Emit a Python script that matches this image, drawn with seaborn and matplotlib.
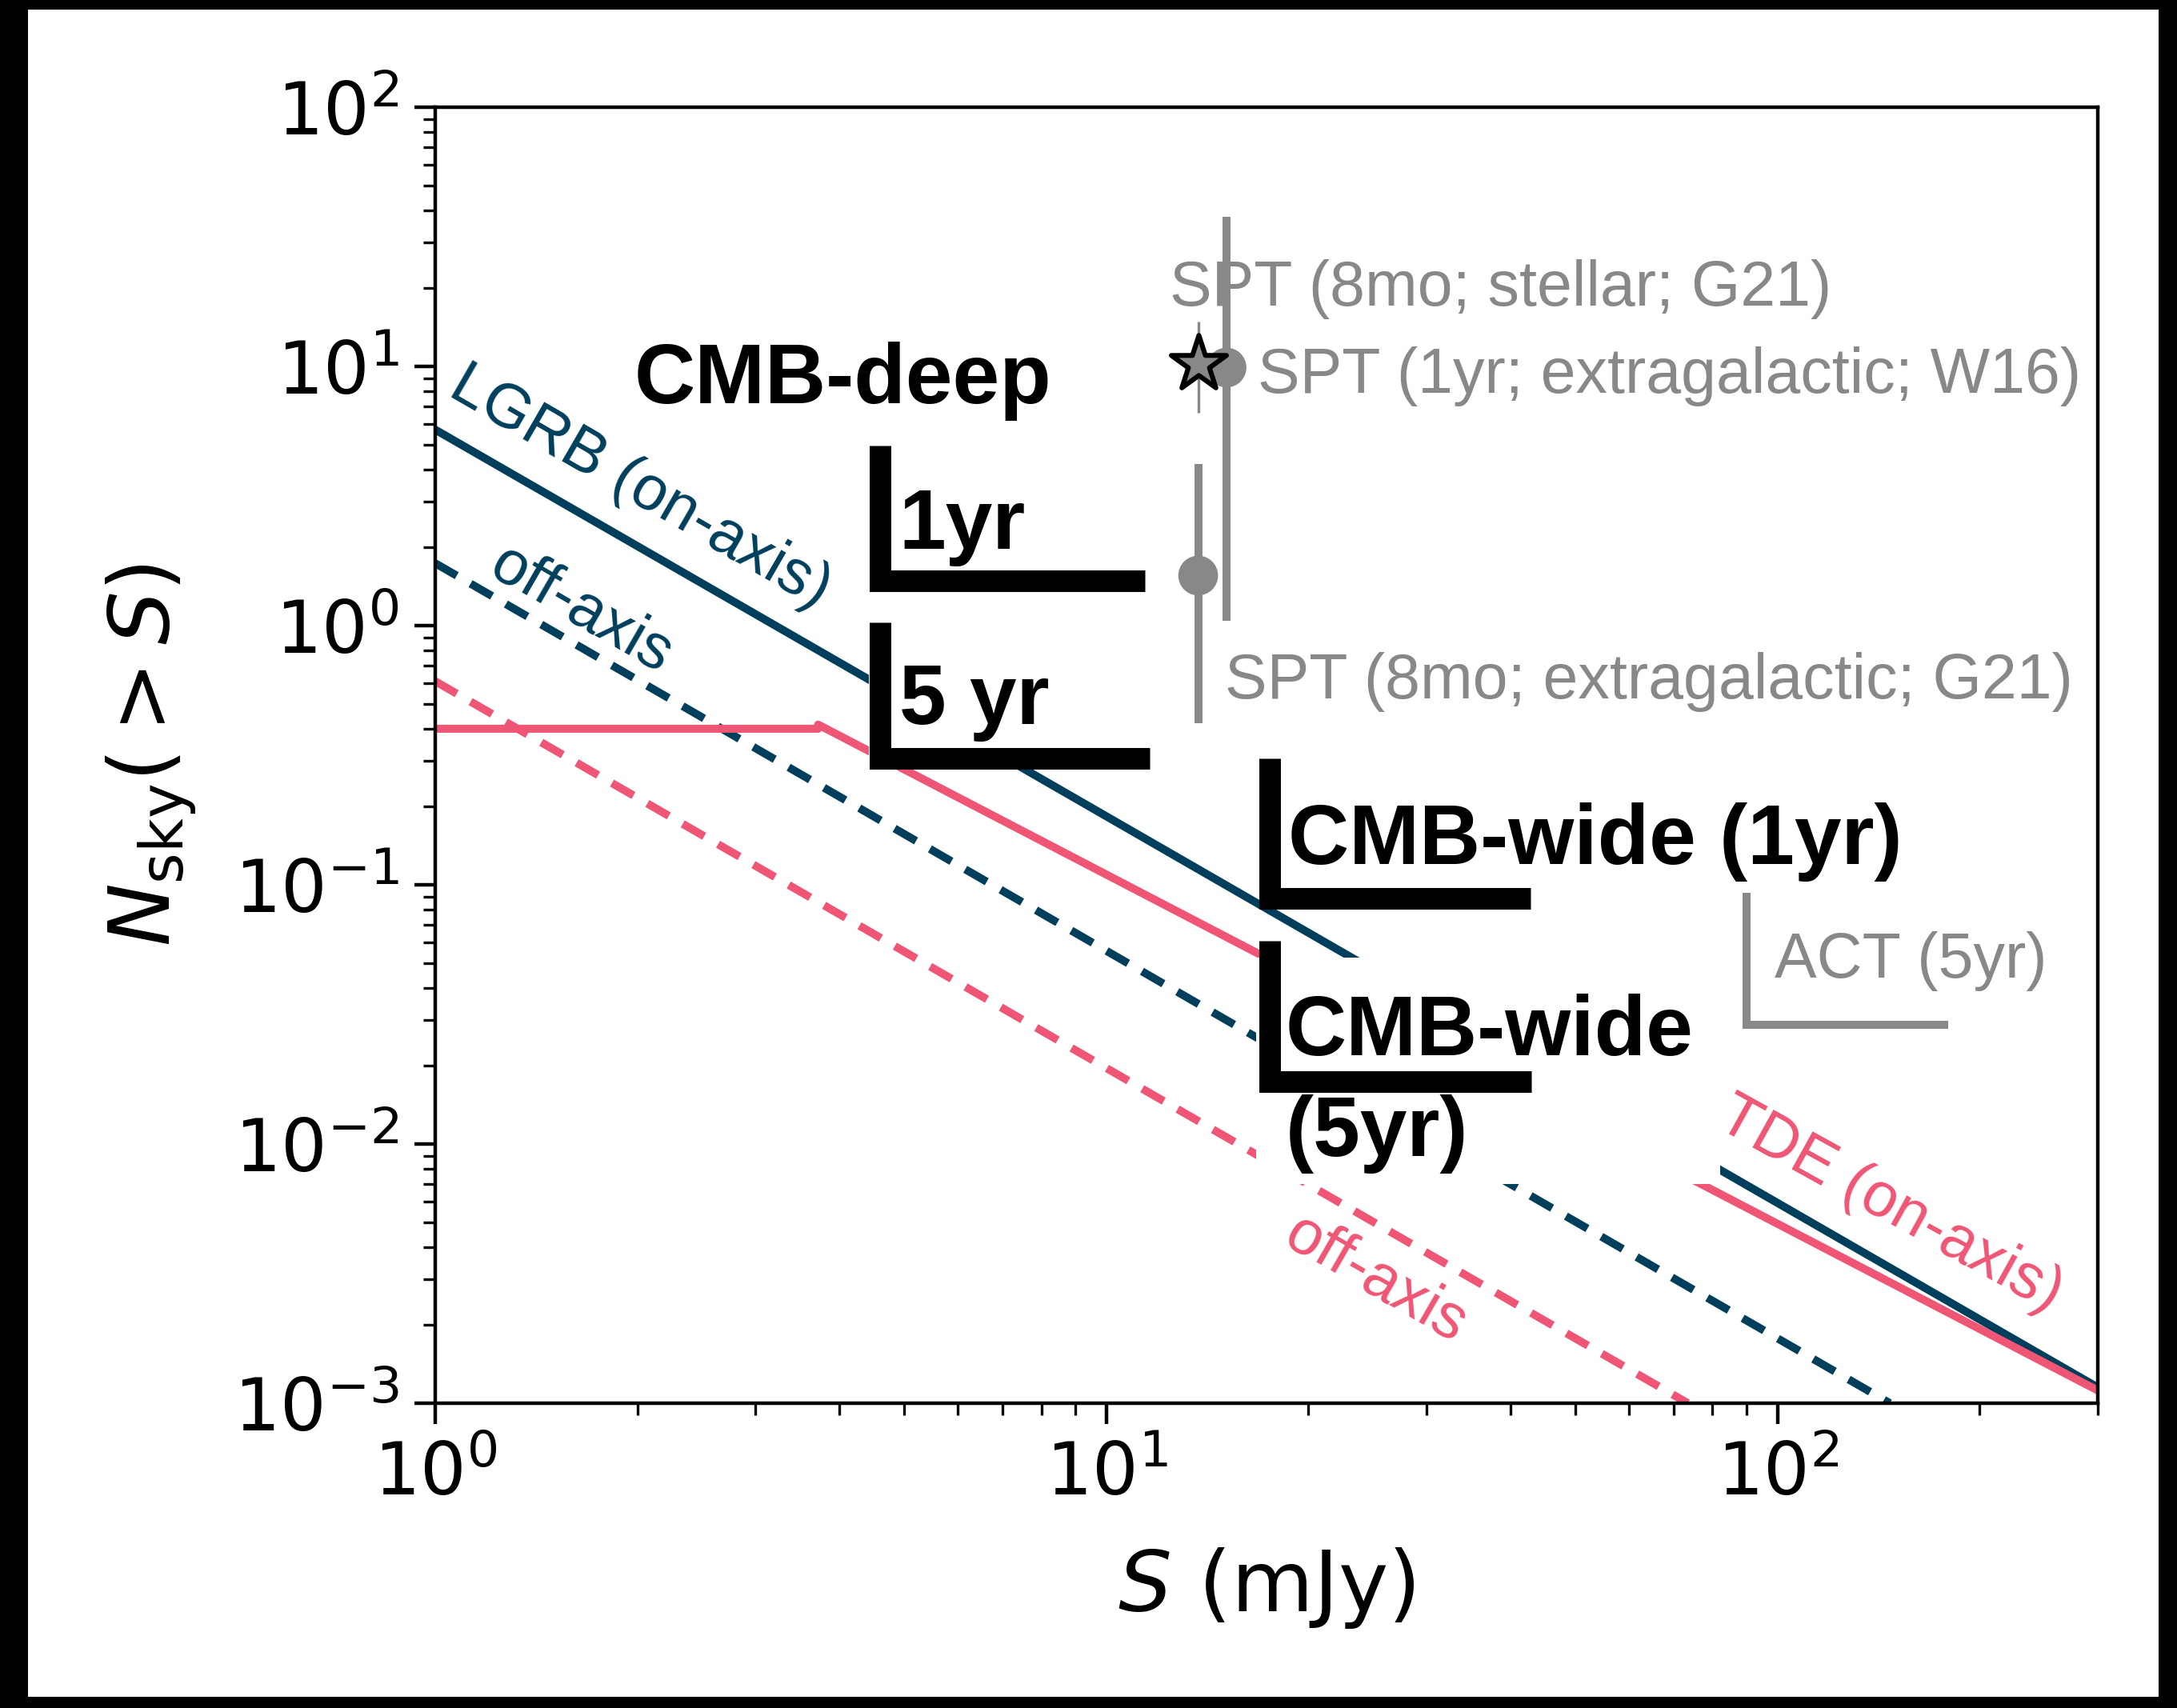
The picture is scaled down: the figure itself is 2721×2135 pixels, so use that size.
import matplotlib
matplotlib.use("Agg")
import matplotlib.pyplot as plt
import seaborn as sns
from matplotlib.patches import Rectangle

# Cumulative all-sky counts N(>S) of each transient population (S in mJy)
lgrb_on_flux = [1.0, 300.0]
lgrb_on_counts = [5.7, 1.15e-3]
lgrb_off_flux = [1.0, 147.0]
lgrb_off_counts = [1.74, 1.0e-3]
tde_on_flux = [1.0, 3.72, 3.72, 300.0]
tde_on_counts = [0.40, 0.40, 0.415, 1.12e-3]
tde_off_flux = [1.0, 73.5]
tde_off_counts = [0.61, 1.0e-3]

# SPT measurements: stellar (G21), extragalactic (W16), extragalactic (G21)
spt_flux = [13.7, 15.1, 13.7]
spt_counts = [10.2, 9.9, 1.56]
spt_low = [6.6, 1.04, 0.42]
spt_high = [14.9, 37.8, 4.2]

# Survey sensitivity limits drawn as L-shaped markers
limit_names = ["CMB-deep 1yr", "CMB-deep 5yr", "CMB-wide 1yr", "CMB-wide 5yr", "ACT 5yr"]
limit_flux = [4.60, 4.60, 17.5, 17.5, 89.8]
limit_counts = [1.49, 0.308, 0.0887, 0.0174, 0.0289]
limit_counts_top = [4.94, 1.03, 0.307, 0.0608, 0.093]
limit_flux_right = [11.41, 11.6, 42.9, 43.0, 179.6]

BLUE = "#003f5c"
PINK = "#ef5675"
GRAY = "#888888"
DASH = (0, (3.1, 2.0))

sns.set_theme(style="ticks")
plt.rcParams["font.family"] = ["DejaVu Sans"]
plt.rcParams["mathtext.fontset"] = "dejavusans"

DPI = 400
W, H = 2721, 2135
fig = plt.figure(figsize=(W / DPI, H / DPI), dpi=DPI, facecolor="black")
fig.patches.append(Rectangle((35 / W, 14 / H), (2698 - 35) / W, (2123 - 14) / H,
                             transform=fig.transFigure, facecolor="white",
                             edgecolor="none", zorder=-10))
ax = fig.add_axes([544 / W, 1 - 1754 / H, 2078 / W, 1620 / H])
ax.set_facecolor("white")
ax.set_xscale("log")
ax.set_yscale("log")
ax.set_xlim(1, 300)
ax.set_ylim(1e-3, 1e2)

# Population curves
line_kw = dict(ax=ax, estimator=None, sort=False, lw=1.8, zorder=2)
sns.lineplot(x=lgrb_on_flux, y=lgrb_on_counts, color=BLUE, **line_kw)
sns.lineplot(x=lgrb_off_flux, y=lgrb_off_counts, color=BLUE, linestyle=DASH, **line_kw)
sns.lineplot(x=tde_on_flux, y=tde_on_counts, color=PINK, **line_kw)
sns.lineplot(x=tde_off_flux, y=tde_off_counts, color=PINK, linestyle=DASH, **line_kw)

lab = dict(fontfamily="Liberation Sans", fontsize=14, rotation_mode="anchor",
           ha="center", va="center", zorder=6)
ax.text(2.02, 3.40, "LGRB (on-axis)", color=BLUE, rotation=-30, **lab)
ax.text(1.65, 1.15, "off-axis", color=BLUE, rotation=-30, **lab)
ax.text(25.2, 0.00299, "off-axis", color=PINK, rotation=-30, **lab)
ax.text(147, 0.00582, "TDE (on-axis)", color=PINK, rotation=-29, **lab)

# SPT detections with vertical ranges
for i, (f, n, lo, hi) in enumerate(zip(spt_flux, spt_counts, spt_low, spt_high)):
    ax.errorbar([f], [n], yerr=[[n - lo], [hi - n]], fmt="none", ecolor=GRAY,
                elinewidth=0.6 if i == 0 else 1.8, capsize=0, zorder=3)
sns.scatterplot(x=spt_flux[1:], y=spt_counts[1:], ax=ax, color=GRAY, s=80,
                edgecolor="none", marker="o", zorder=4)
sns.scatterplot(x=spt_flux[:1], y=spt_counts[:1], ax=ax, color=GRAY, s=170,
                edgecolor="black", linewidth=1.1, marker="*", zorder=5)

gray_kw = dict(fontfamily="Liberation Sans", fontsize=14.2, color=GRAY,
               transform=ax.transAxes, ha="left", va="baseline", zorder=6)
ax.text(0.4420, 0.8469, "SPT (8mo; stellar; G21)", **gray_kw)
ax.text(0.4945, 0.7796, "SPT (1yr; extragalactic; W16)", **gray_kw)
ax.text(0.4752, 0.5438, "SPT (8mo; extragalactic; G21)", **gray_kw)
ax.text(0.8058, 0.3284, "ACT (5yr)", **gray_kw)

# Blank panels behind the survey annotations
for x0, y0, w, h in [(0.2608, 0.4895, 0.1685, 0.1130),
                     (0.4937, 0.1691, 0.2792, 0.1747)]:
    ax.add_patch(Rectangle((x0, y0), w, h, transform=ax.transAxes,
                           facecolor="white", edgecolor="none", zorder=3))

# Survey limits
for name, fc, nc, nt, fr in zip(limit_names, limit_flux, limit_counts,
                                limit_counts_top, limit_flux_right):
    is_act = name.startswith("ACT")
    sns.lineplot(x=[fc, fc, fr], y=[nt, nc, nc], ax=ax, estimator=None, sort=False,
                 color=GRAY if is_act else "black", lw=1.8 if is_act else 4.85,
                 solid_joinstyle="miter", solid_capstyle="butt", zorder=4)

bold_kw = dict(fontfamily="Liberation Sans", fontweight="bold", fontsize=19,
               color="black", transform=ax.transAxes, ha="left", va="baseline",
               zorder=6)
ax.text(0.1195, 0.7716, "CMB-deep", **bold_kw)
ax.text(0.2790, 0.6593, "1yr", **bold_kw)
ax.text(0.2790, 0.5241, "5 yr", **bold_kw)
ax.text(0.5130, 0.4160, "CMB-wide (1yr)", **bold_kw)
ax.text(0.5112, 0.2685, "CMB-wide", **bold_kw)
ax.text(0.5112, 0.1907, "(5yr)", **bold_kw)

# Axes styling
for sp in ax.spines.values():
    sp.set_visible(True)
    sp.set_color("black")
    sp.set_linewidth(0.8)
ax.tick_params(which="major", length=4.7, width=0.8, color="black",
               labelcolor="black", labelsize=16.3, direction="out", pad=3.5)
ax.tick_params(which="minor", length=2.7, width=0.6, color="black", direction="out")
ax.set_xlabel(r"$S$ (mJy)", fontsize=19, color="black")
ax.set_ylabel(r"$N_{\rm sky}(>S)$", fontsize=19, color="black")
ax.xaxis.set_label_coords(0.5, -0.11)
ax.yaxis.set_label_coords(-0.142, 0.5)
ax.grid(False)

fig.savefig("out.png", dpi=DPI, facecolor=fig.get_facecolor())
